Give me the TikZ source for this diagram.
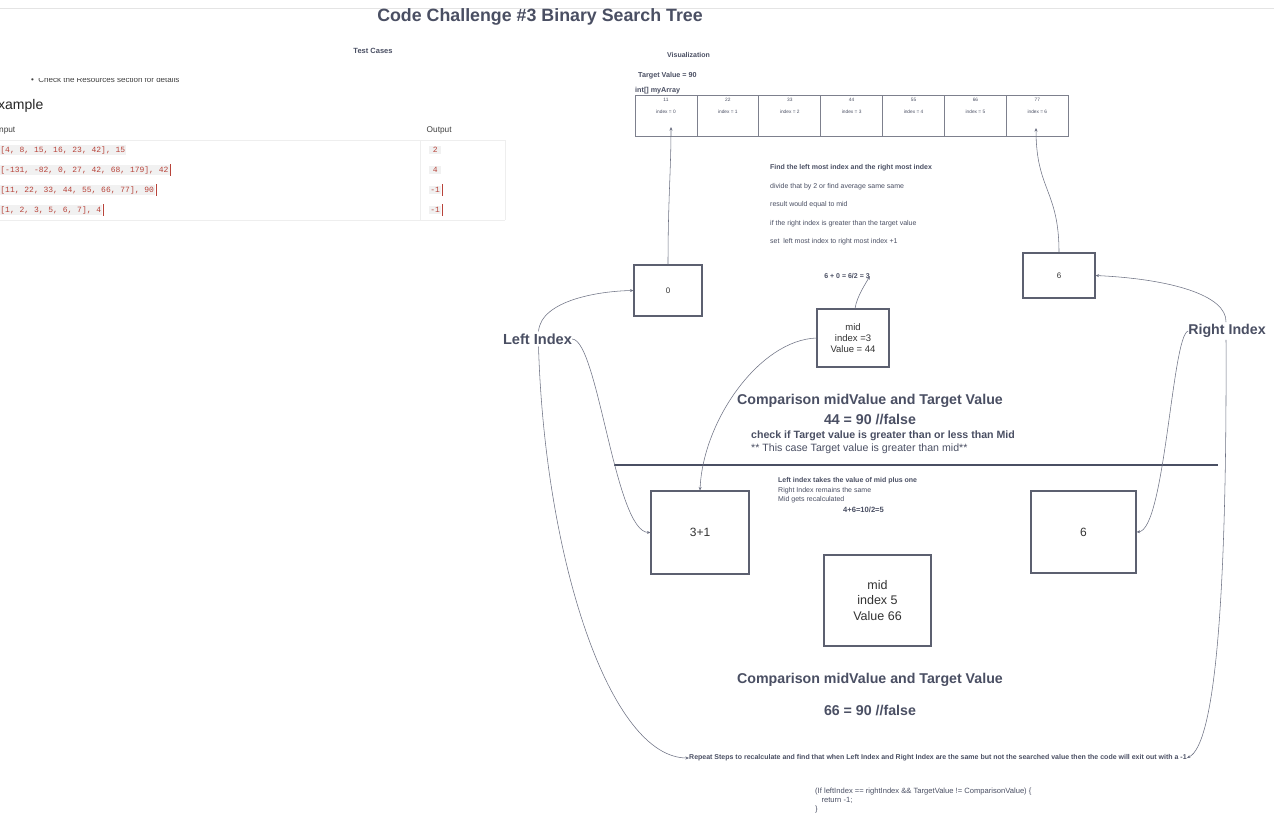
\documentclass[tikz,border=0pt]{standalone}
\usepackage{fontspec}
\setmainfont{Liberation Sans}
\setmonofont{Liberation Mono}
\usetikzlibrary{arrows.meta,calc}
\definecolor{ink}{HTML}{4A4F63}
\definecolor{edge}{HTML}{5C6070}
\definecolor{wire}{HTML}{6E7284}
\definecolor{codered}{HTML}{B8433A}
\definecolor{codebg}{HTML}{F1F1F1}
\definecolor{rule}{HTML}{E4E4E4}
\definecolor{faint}{HTML}{EEEEEE}
\newcommand{\fs}[1]{\fontsize{#1}{#1}\selectfont}
\tikzset{
  txt/.style={inner sep=0pt, text=ink, font=\fs{7}},
  btxt/.style={inner sep=0pt, text=ink, font=\bfseries\fs{7}},
  big/.style={inner sep=0pt, text=ink, font=\bfseries\fs{14.2}, align=center},
  boxn/.style={draw=edge, line width=1.1pt, inner sep=0pt, text=black!80},
  cell/.style={draw=edge!80, line width=0.7pt, inner sep=0pt, minimum height=41, minimum width=61.9},
  tiny/.style={inner sep=0pt, text=ink, font=\fs{4.8}},
  conn/.style={draw=wire, line width=0.55pt, -{Stealth[length=3.5pt,width=3pt]}},
  code/.style={inner sep=1.2pt, fill=codebg, text=codered, font=\ttfamily\fs{8}, anchor=west},
  cursor/.style={draw=codered, line width=0.7pt},
}
\begin{document}
\begin{tikzpicture}[x=1pt,y=-1pt]
\useasboundingbox (0,0) rectangle (1274,820);
\fill[white] (0,0) rectangle (1274,820);
% top rule
\draw[rule, line width=0.8pt] (0,8) -- (1274,8);
% title
\node[inner sep=0pt, text=ink, font=\bfseries\fs{17.8}] (title) at (540,17) {Code Challenge \#3 Binary Search Tree};
\node[btxt, font=\bfseries\fs{7.5}] (tc) at (373,51) {Test Cases};
% clipped bullet line
\begin{scope}
\clip (0,78.5) rectangle (300,90);
\node[inner sep=0pt, text=black!75, font=\fs{8}, anchor=west] (bul) at (31,80) {\textbullet\ \ Check the Resources section for details};
\end{scope}
\node[inner sep=0pt, text=black!85, font=\fs{14}, anchor=east] (ex) at (43.5,106) {Example};
\node[inner sep=0pt, text=black!75, font=\fs{8.3}, anchor=east] (inp) at (15.5,130) {Input};
\node[inner sep=0pt, text=black!75, font=\fs{8.3}, anchor=west] (outp) at (426.5,130) {Output};
% table rules
\draw[faint, line width=0.6pt] (0,140) -- (505,140);
\draw[faint, line width=0.6pt] (0,220) -- (505,220);
\draw[faint, line width=0.6pt] (420.5,140) -- (420.5,220);
\draw[faint, line width=0.6pt] (505,140) -- (505,220);
% code rows
\node[code] (r1) at (-1,150) {[4, 8, 15, 16, 23, 42], 15};
\node[code] (r2) at (-1,170) {[-131, -82, 0, 27, 42, 68, 179], 42};
\node[code] (r3) at (-1,190) {[11, 22, 33, 44, 55, 66, 77], 90};
\node[code] (r4) at (-1,210) {[1, 2, 3, 5, 6, 7], 4};
\draw[cursor] ($(r2.east)+(0.6,-6)$) -- ($(r2.east)+(0.6,6)$);
\draw[cursor] ($(r3.east)+(0.6,-6)$) -- ($(r3.east)+(0.6,6)$);
\draw[cursor] ($(r4.east)+(0.6,-6)$) -- ($(r4.east)+(0.6,6)$);
\node[code, minimum width=12] (o1) at (429,150) {2};
\node[code, minimum width=12] (o2) at (429,170) {4};
\node[code, minimum width=12] (o3) at (429,190) {-1};
\node[code, minimum width=12] (o4) at (429,210) {-1};
\draw[cursor] ($(o3.east)+(0.6,-6)$) -- ($(o3.east)+(0.6,6)$);
\draw[cursor] ($(o4.east)+(0.6,-6)$) -- ($(o4.east)+(0.6,6)$);
% visualization header
\node[btxt] (vis) at (688.5,55) {Visualization};
\node[btxt, font=\bfseries\fs{7.2}, anchor=west] (tv) at (638,76) {Target Value = 90};
\node[btxt, font=\bfseries\fs{7.2}, anchor=west] (arr) at (635,91) {int[] myArray};
% array cells
\foreach \i/\v in {0/11,1/22,2/33,3/44,4/55,5/66,6/77}{
  \node[cell] (c\i) at ({635+61.9*\i+30.95},115.5) {};
  \node[tiny] (v\i) at ({635+61.9*\i+30.95},100) {\v};
  \node[tiny] (ix\i) at ({635+61.9*\i+30.95},112) {index = \i};
}
\coordinate (c0p) at (671,127);
\coordinate (c6p) at (1036,128);
% explanation block
\node[btxt, anchor=west] (e1) at (770,168) {Find the left most index and the right most index};
\node[txt, anchor=west] (e2) at (770,187) {divide that by 2 or find average same same};
\node[txt, anchor=west] (e3) at (770,205) {result would equal to mid};
\node[txt, anchor=west] (e4) at (770,224) {if the right index is greater than the target value};
\node[txt, anchor=west] (e5) at (770,242) {set\ \ left most index to right most index +1};
% index boxes (first round)
\node[boxn, minimum width=68, minimum height=51, font=\fs{8}] (b0) at (668,290.5) {0};
\node[boxn, minimum width=72, minimum height=45, font=\fs{8}] (b6) at (1059,275.5) {6};
\node[btxt, font=\bfseries\fs{7}] (calc1) at (847,276) {6 + 0 = 6/2 = 3};
\node[boxn, minimum width=72, minimum height=58, font=\fs{9.5}, align=center] (mid1) at (853,338) {mid\\[1.5pt]index =3\\[1.5pt]Value = 44};
% side labels
\node[inner sep=0pt, text=ink, font=\bfseries\fs{14.6}] (li) at (537.5,339) {Left Index};
\node[inner sep=0pt, text=ink, font=\bfseries\fs{14.2}] (ri) at (1227,331) {Right Index};
% comparison 1
\node[big] (cmp1) at (870,401) {Comparison midValue and Target Value};
\node[big] (eq1) at (870,419) {44 = 90 //false};
\node[inner sep=0pt, text=ink, font=\bfseries\fs{10.6}, anchor=west] (chk) at (751,436) {check if Target value is greater than or less than Mid};
\node[inner sep=0pt, text=ink, font=\fs{10.6}, anchor=west] (case) at (751,449) {** This case Target value is greater than mid**};
% divider
\draw[ink, line width=2.4pt] (614,465) -- (1218,465);
% second round notes
\node[btxt, font=\bfseries\fs{7}, anchor=west] (n1) at (778,481) {Left index takes the value of mid plus one};
\node[txt, font=\fs{7}, anchor=west] (n2) at (778,491) {Right Index remains the same};
\node[txt, font=\fs{7}, anchor=west] (n3) at (778,500) {Mid gets recalculated};
\node[btxt, font=\bfseries\fs{7.6}] (calc2) at (863.5,510) {4+6=10/2=5};
% second round boxes
\node[boxn, minimum width=98, minimum height=83, font=\fs{12}] (b31) at (700,532.5) {3+1};
\node[boxn, minimum width=105, minimum height=82, font=\fs{12}] (b6b) at (1083.5,532) {6};
\node[boxn, minimum width=107, minimum height=91, font=\fs{12.5}, align=center] (mid2) at (877.5,600.5) {mid\\[3pt]index 5\\[3pt]Value 66};
% comparison 2
\node[big] (cmp2) at (870,680) {Comparison midValue and Target Value};
\node[big] (eq2) at (870,710) {66 = 90 //false};
% repeat line
\node[btxt, font=\bfseries\fs{7}, anchor=west] (rep) at (689,758) {Repeat Steps to recalculate and find that when Left Index and Right Index are the same but not the searched value then the code will exit out with a -1};
% code snippet
\node[txt, font=\fs{7.6}, anchor=north west, align=left] (snip) at (815,788) {(If leftIndex == rightIndex \&\& TargetValue != ComparisonValue) \{\\[1.4pt]\ \ \ return -1;\\[1.4pt]\}};
% connectors
\draw[conn] (b0.north) .. controls (668,200) and (671,170) .. (c0p);
\draw[conn] (b6.north) .. controls (1059,190) and (1036,190) .. (c6p);
\draw[conn] ($(mid1.north)+(2,0)$) .. controls (857,296) and (866,283) .. (calc1.east);
\draw[conn] ($(li.north)+(1,-2)$) .. controls (541,300) and (600,291) .. (b0.west);
\draw[conn] (li.east) .. controls (598,340) and (615,532) .. (b31.west);
\draw[conn] ($(li.south)+(1,2)$) .. controls (545,560) and (610,758) .. (rep.west);
\draw[conn] (mid1.west) .. controls (760,340) and (703,420) .. (b31.north);
\draw[conn] ($(ri.north)+(-1,-2)$) .. controls (1227,295) and (1170,279) .. (b6.east);
\draw[conn] (ri.west) .. controls (1172,335) and (1165,530) .. (b6b.east);
\draw[conn] ($(ri.south)+(-1,2)$) .. controls (1227,600) and (1215,745) .. (rep.east);
\end{tikzpicture}
\end{document}
